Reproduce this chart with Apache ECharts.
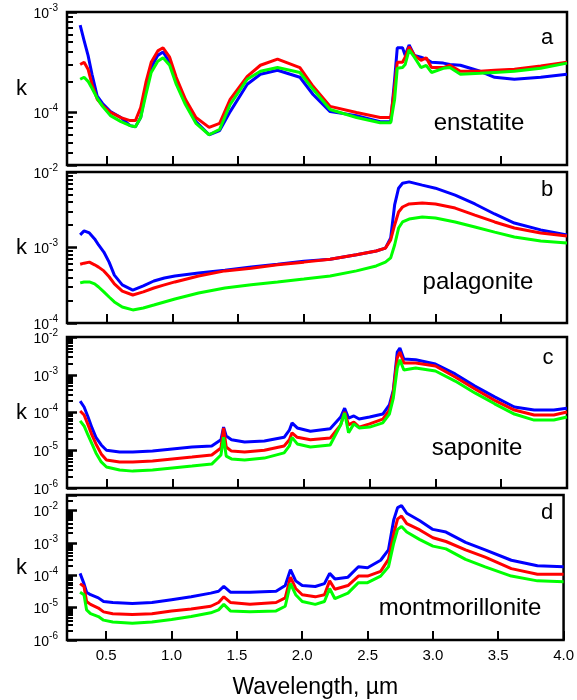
<!DOCTYPE html>
<html><head><meta charset="utf-8">
<script src="https://cdn.jsdelivr.net/npm/echarts@6/dist/echarts.min.js"></script>
<style>html,body{margin:0;padding:0;background:#fff}#c{width:577px;height:700px}</style>
</head><body><div id="c"></div>
<script>
// ---- data ----
const wlA = [0.30,0.33,0.36,0.39,0.43,0.47,0.53,0.61,0.68,0.72,0.76,0.80,0.84,0.89,0.93,0.98,1.03,1.10,1.18,1.28,1.36,1.44,1.57,1.67,1.80,1.97,2.07,2.20,2.40,2.58,2.66,2.69,2.71,2.75,2.77,2.80,2.84,2.89,2.93,2.97,3.06,3.11,3.19,3.34,3.45,3.60,3.80,4.00];
const blueA = [7.4e-4,5.2e-4,3.7e-4,2.4e-4,1.45e-4,1.23e-4,1.02e-4,8.9e-5,7.4e-5,7.2e-5,8.9e-5,1.7e-4,2.8e-4,3.7e-4,4.0e-4,3.16e-4,2.14e-4,1.29e-4,8.1e-5,6.0e-5,6.6e-5,1.02e-4,1.91e-4,2.4e-4,2.63e-4,2.24e-4,1.51e-4,1.02e-4,9.3e-5,8.1e-5,8.1e-5,2.14e-4,4.4e-4,4.4e-4,3.7e-4,4.7e-4,3.7e-4,3.55e-4,3.4e-4,3.16e-4,3.1e-4,3.0e-4,2.95e-4,2.57e-4,2.24e-4,2.14e-4,2.24e-4,2.4e-4];
const redA = [3.0e-4,3.16e-4,2.7e-4,1.91e-4,1.35e-4,1.17e-4,1.0e-4,8.9e-5,8.3e-5,8.3e-5,1.12e-4,2.0e-4,3.16e-4,4.1e-4,4.4e-4,3.55e-4,2.24e-4,1.35e-4,8.9e-5,7.1e-5,7.8e-5,1.35e-4,2.29e-4,2.95e-4,3.4e-4,2.8e-4,1.82e-4,1.15e-4,1.0e-4,8.9e-5,8.9e-5,1.78e-4,3.16e-4,3.16e-4,3.55e-4,4.5e-4,3.7e-4,3.3e-4,3.5e-4,2.8e-4,2.8e-4,2.95e-4,2.57e-4,2.57e-4,2.63e-4,2.7e-4,2.9e-4,3.16e-4];
const greenA = [2.14e-4,2.24e-4,2.04e-4,1.74e-4,1.38e-4,1.15e-4,9.3e-5,8.1e-5,7.4e-5,7.2e-5,8.9e-5,1.51e-4,2.5e-4,3.24e-4,3.5e-4,2.95e-4,1.91e-4,1.2e-4,7.8e-5,6.0e-5,6.8e-5,1.2e-4,2.14e-4,2.57e-4,2.8e-4,2.5e-4,1.7e-4,1.07e-4,8.9e-5,7.9e-5,7.9e-5,1.35e-4,2.75e-4,2.8e-4,3.0e-4,4.2e-4,3.55e-4,2.8e-4,2.95e-4,2.5e-4,2.75e-4,2.8e-4,2.4e-4,2.45e-4,2.5e-4,2.57e-4,2.75e-4,3.1e-4];

const wlB = [0.30,0.33,0.37,0.41,0.44,0.48,0.52,0.56,0.62,0.70,0.78,0.86,0.94,1.02,1.2,1.4,1.6,1.8,2.0,2.2,2.4,2.55,2.62,2.66,2.69,2.72,2.75,2.80,2.90,3.0,3.15,3.3,3.45,3.6,3.8,4.0];
const blueB = [1.47e-3,1.66e-3,1.56e-3,1.30e-3,1.08e-3,8.7e-4,6.4e-4,4.3e-4,3.2e-4,2.73e-4,3.1e-4,3.6e-4,3.94e-4,4.2e-4,4.6e-4,5.0e-4,5.5e-4,6.0e-4,6.6e-4,7.0e-4,8.0e-4,9.0e-4,9.8e-4,1.34e-3,3.66e-3,6.1e-3,7.1e-3,7.4e-3,6.7e-3,6.1e-3,4.95e-3,3.77e-3,2.78e-3,2.11e-3,1.71e-3,1.47e-3];
const redB = [6.0e-4,6.2e-4,6.4e-4,5.9e-4,5.5e-4,4.9e-4,4.1e-4,3.3e-4,2.65e-4,2.35e-4,2.58e-4,2.91e-4,3.2e-4,3.5e-4,4.2e-4,4.9e-4,5.3e-4,5.9e-4,6.4e-4,7.0e-4,8.0e-4,9.0e-4,9.8e-4,1.26e-3,1.99e-3,2.95e-3,3.44e-3,3.77e-3,3.88e-3,3.77e-3,3.33e-3,2.69e-3,2.18e-3,1.81e-3,1.56e-3,1.42e-3];
const greenB = [3.4e-4,3.5e-4,3.5e-4,3.3e-4,3.0e-4,2.58e-4,2.21e-4,1.90e-4,1.63e-4,1.49e-4,1.58e-4,1.73e-4,1.90e-4,2.08e-4,2.5e-4,2.91e-4,3.2e-4,3.5e-4,3.83e-4,4.2e-4,4.9e-4,5.7e-4,6.4e-4,7.3e-4,1.08e-3,1.81e-3,2.18e-3,2.38e-3,2.54e-3,2.46e-3,2.18e-3,1.87e-3,1.60e-3,1.38e-3,1.22e-3,1.15e-3];

const wlC = [0.30,0.33,0.36,0.39,0.42,0.46,0.50,0.60,0.70,0.85,1.00,1.15,1.30,1.37,1.39,1.41,1.45,1.55,1.70,1.85,1.89,1.91,1.95,2.05,2.20,2.28,2.31,2.34,2.38,2.42,2.50,2.60,2.65,2.68,2.71,2.73,2.76,2.85,3.00,3.15,3.30,3.45,3.60,3.75,3.90,4.00];
const blueC = [2.0e-4,1.4e-4,7.6e-5,3.9e-5,2.2e-5,1.38e-5,1.0e-5,9.0e-6,9.0e-6,9.5e-6,1.08e-5,1.22e-5,1.30e-5,1.9e-5,4.1e-5,2.4e-5,1.9e-5,1.66e-5,1.76e-5,2.2e-5,3.4e-5,5.3e-5,3.9e-5,3.2e-5,3.7e-5,7.6e-5,1.3e-4,7.1e-5,8.1e-5,6.7e-5,7.6e-5,9.1e-5,1.6e-4,3.9e-4,4.0e-3,5.1e-3,2.6e-3,2.5e-3,1.93e-3,1.05e-3,5.0e-4,2.6e-4,1.4e-4,1.16e-4,1.16e-4,1.3e-4];
const redC = [1.1e-4,8.6e-5,4.7e-5,2.5e-5,1.47e-5,8.0e-6,5.5e-6,4.9e-6,4.9e-6,5.2e-6,5.9e-6,6.6e-6,7.5e-6,1.15e-5,3.9e-5,1.22e-5,9.5e-6,9.0e-6,1.0e-5,1.30e-5,1.9e-5,2.9e-5,2.2e-5,1.9e-5,2.1e-5,4.7e-5,1.03e-4,4.7e-5,5.6e-5,4.1e-5,5.0e-5,6.7e-5,1.16e-4,3.5e-4,2.8e-3,4.0e-3,2.05e-3,2.05e-3,1.71e-3,8.7e-4,4.2e-4,2.1e-4,1.16e-4,8.6e-5,8.6e-5,1.03e-4];
const greenC = [6.0e-5,4.4e-5,2.5e-5,1.47e-5,8.5e-6,4.9e-6,3.6e-6,3.0e-6,2.8e-6,3.0e-6,3.4e-6,3.8e-6,4.3e-6,7.5e-6,2.2e-5,7.0e-6,5.9e-6,5.5e-6,6.2e-6,8.5e-6,1.30e-5,2.2e-5,1.47e-5,1.22e-5,1.38e-5,4.7e-5,9.7e-5,2.9e-5,5.0e-5,3.9e-5,4.1e-5,5.3e-5,9.1e-5,2.4e-4,1.51e-3,2.5e-3,1.34e-3,1.51e-3,1.26e-3,6.8e-4,3.3e-4,1.7e-4,9.1e-5,6.3e-5,6.3e-5,7.6e-5];

const wlD = [0.30,0.31,0.33,0.35,0.38,0.44,0.48,0.55,0.70,0.85,1.00,1.15,1.30,1.36,1.40,1.45,1.60,1.80,1.87,1.91,1.95,2.00,2.10,2.17,2.21,2.25,2.35,2.43,2.50,2.60,2.66,2.70,2.73,2.76,2.80,2.90,3.00,3.10,3.25,3.40,3.60,3.80,4.00];
const blueD = [1.14e-4,1.31e-4,5.5e-5,3.0e-5,2.5e-5,2.0e-5,1.54e-5,1.44e-5,1.35e-5,1.44e-5,1.76e-5,2.15e-5,2.8e-5,3.2e-5,4.5e-5,3.0e-5,3.0e-5,3.2e-5,4.8e-5,1.49e-4,6.7e-5,4.8e-5,4.5e-5,5.5e-5,1.14e-4,7.7e-5,8.7e-5,1.82e-4,1.71e-4,2.9e-4,6.1e-4,5.1e-3,1.22e-2,1.40e-2,8.2e-3,4.8e-3,2.6e-3,2.15e-3,1.03e-3,6.1e-4,2.9e-4,1.95e-4,1.82e-4];
const redD = [5.5e-5,5.9e-5,4.5e-5,1.54e-5,1.26e-5,9.7e-6,7.4e-6,6.5e-6,6.1e-6,6.5e-6,7.9e-6,9.1e-6,1.10e-5,1.44e-5,2.15e-5,1.44e-5,1.26e-5,1.44e-5,2.0e-5,8.7e-5,3.9e-5,2.5e-5,2.15e-5,2.5e-5,6.7e-5,3.7e-5,4.8e-5,9.4e-5,9.4e-5,1.31e-4,3.1e-4,1.88e-3,5.5e-3,6.7e-3,3.9e-3,2.5e-3,1.44e-3,1.10e-3,6.1e-4,3.6e-4,1.60e-4,1.07e-4,1.07e-4];
const greenD = [3.0e-5,3.2e-5,2.5e-5,8.5e-6,6.5e-6,5.3e-6,4.1e-6,3.6e-6,3.3e-6,3.6e-6,4.3e-6,5.3e-6,6.9e-6,8.5e-6,1.26e-5,7.9e-6,7.4e-6,7.9e-6,1.10e-5,5.5e-5,2.5e-5,1.54e-5,1.26e-5,1.54e-5,3.9e-5,1.88e-5,2.8e-5,5.9e-5,5.9e-5,9.4e-5,1.82e-4,9.7e-4,2.6e-3,3.2e-3,2.15e-3,1.26e-3,7.9e-4,6.5e-4,3.1e-4,1.82e-4,9.4e-5,6.7e-5,6.3e-5];

const yRanges = [[3e-5,1e-3],[1e-4,1e-2],[1e-6,1e-2],[1e-6,3e-2]];
const panelLetters = ['a','b','c','d'];
const mineralNames = ['enstatite','palagonite','saponite','montmorillonite'];
const xTickLabels = ['0.5','1.0','1.5','2.0','2.5','3.0','3.5','4.0'];
const xTitle = 'Wavelength, \u00b5m';
const yTitle = 'k';

// ---- chart ----
const FONT = '"Liberation Sans", Arial, sans-serif';
const panels = [
  {wl: wlA, s: [blueA, redA, greenA]},
  {wl: wlB, s: [blueB, redB, greenB]},
  {wl: wlC, s: [blueC, redC, greenC]},
  {wl: wlD, s: [blueD, redD, greenD]}
];
const colors = ['#0000ff','#ff0000','#00ff00'];
const gridTops = [12, 172, 337, 495];
const gridHeights = [153, 151, 151, 153];

function supLabel(v){
  const l = Math.log10(v);
  const e = Math.round(l);
  if (Math.abs(l - e) > 1e-6) return '';
  return '{a|10}{b|' + e + '}';
}

const grid = [], xAxis = [], yAxis = [], series = [];
panels.forEach((p, i) => {
  grid.push({left: 67, width: 500, top: gridTops[i], height: gridHeights[i],
    show: true, borderColor: '#000', borderWidth: 2.5, backgroundColor: 'transparent'});
  xAxis.push({type: 'value', gridIndex: i, min: 0.2, max: 4.0, splitNumber: 8,
    axisLine: {show: false},
    axisTick: {show: true, inside: true, length: 9, lineStyle: {color: '#000', width: 2}},
    splitLine: {show: false},
    axisLabel: {show: i === 3, color: '#000', fontSize: 15, fontFamily: FONT, margin: 8,
      formatter: v => { const s = v.toFixed(1); return xTickLabels.indexOf(s) >= 0 ? s : ''; }},
    name: i === 3 ? xTitle : '', nameLocation: 'middle', nameGap: 36,
    nameTextStyle: {color: '#000', fontSize: 23, fontFamily: FONT}
  });
  yAxis.push({type: 'log', logBase: 10, gridIndex: i, min: yRanges[i][0], max: yRanges[i][1],
    axisLine: {show: false},
    axisTick: {show: true, inside: true, length: 10, lineStyle: {color: '#000', width: 2.5}},
    minorTick: {show: true, splitNumber: 9, length: 6, lineStyle: {color: '#000', width: 2}},
    splitLine: {show: false}, minorSplitLine: {show: false},
    axisLabel: {color: '#000', margin: 9, formatter: supLabel,
      rich: {a: {fontSize: 14, fontFamily: FONT, color: '#000', padding: [4,0,0,0]},
             b: {fontSize: 10, fontFamily: FONT, color: '#000', verticalAlign: 'top'}}},
    name: yTitle, nameLocation: 'middle', nameRotate: 0, nameGap: 40,
    nameTextStyle: {color: '#000', fontSize: 22, fontFamily: FONT}
  });
  p.s.forEach((vals, j) => {
    series.push({type: 'line', xAxisIndex: i, yAxisIndex: i, showSymbol: false, symbol: 'none',
      data: p.wl.map((w, k) => [w, vals[k]]), lineStyle: {color: colors[j], width: 3},
      itemStyle: {color: colors[j]}, animation: false, z: 2 + j, clip: true});
  });
});

const letterPos = [[547,38],[547,190],[548,358],[547,513]];
const namePos = [[479,123],[478,282],[477,448],[460,608]];
const graphic = [];
panelLetters.forEach((t, i) => graphic.push({type: 'text', x: letterPos[i][0], y: letterPos[i][1],
  style: {text: t, fill: '#000', font: '22px ' + FONT, textAlign: 'center', textVerticalAlign: 'middle'}}));
mineralNames.forEach((t, i) => graphic.push({type: 'text', x: namePos[i][0], y: namePos[i][1],
  style: {text: t, fill: '#000', font: '24px ' + FONT, textAlign: 'center', textVerticalAlign: 'middle'}}));

const chart = echarts.init(document.getElementById('c'), null, {renderer: 'canvas'});
chart.setOption({animation: false, backgroundColor: '#fff', grid, xAxis, yAxis, series, graphic});
</script></body></html>
